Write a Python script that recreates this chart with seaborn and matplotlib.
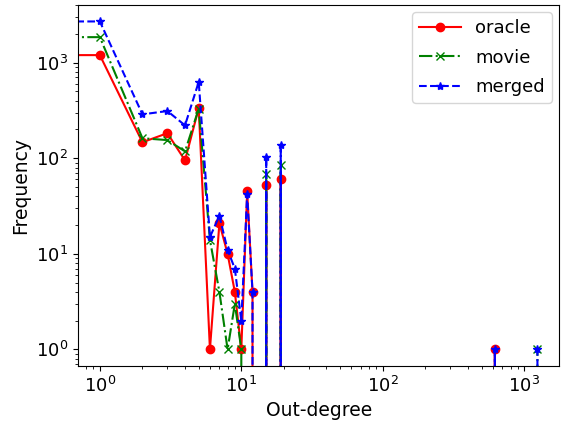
import numpy as np
import pandas as pd
import matplotlib
matplotlib.use("Agg")
import matplotlib.pyplot as plt
import seaborn as sns

# out-degree counts (zero everywhere else)
oracle_degree = [0, 1, 2, 3, 4, 5, 6, 7, 8, 9, 10, 11, 12, 15, 19, 620]
oracle_freq = [1200, 1200, 147, 183, 95, 335, 1, 21, 10, 4, 1, 45, 4, 52, 61, 1]

movie_degree = [0, 1, 2, 3, 4, 5, 6, 7, 8, 9, 10, 15, 19, 1240]
movie_freq = [1850, 1850, 162, 155, 118, 330, 14, 4, 1, 3, 1, 68, 86, 1]

merged_degree = [0, 1, 2, 3, 4, 5, 6, 7, 8, 9, 10, 11, 12, 15, 19, 620, 1240]
merged_freq = [2700, 2700, 288, 312, 221, 630, 15, 25, 11, 7, 2, 42, 4, 102, 137, 1, 1]

max_degree = 1240


def a_histograma(grados, frecuencias):
    """Serie completa 0..max_degree con ceros donde no hay nodos"""
    s = pd.Series(frecuencias, index=grados, dtype=float)
    s = s.reindex(range(max_degree + 1), fill_value=0.0)
    return pd.DataFrame({"degree": s.index, "freq": s.values})


series = [
    ("oracle", oracle_degree, oracle_freq, "red", "-", "o"),
    ("movie", movie_degree, movie_freq, "green", "-.", "x"),
    ("merged", merged_degree, merged_freq, "blue", "--", "*"),
]

fig, ax = plt.subplots(figsize=(5.61, 4.21), dpi=100)
ax.set_xscale("log")
ax.set_yscale("log")

for nombre, grados, frecs, color, estilo, marcador in series:
    df = a_histograma(grados, frecs)
    sns.lineplot(data=df, x="degree", y="freq", ax=ax, label=nombre,
                 color=color, linestyle=estilo, marker=marcador,
                 markeredgecolor=color, markeredgewidth=1.0,
                 markersize=6, linewidth=1.5,
                 estimator=None, errorbar=None, sort=True)

ax.set_xlabel("Out-degree", fontsize=13.5)
ax.set_ylabel("Frequency", fontsize=13.5)
ax.tick_params(axis="both", which="major", labelsize=13)
ax.legend(loc="upper right", fontsize=13, labelspacing=0.62,
          handlelength=2.3, borderaxespad=0.4)

plt.subplots_adjust(left=0.139, right=0.997, top=0.988, bottom=0.131)
plt.savefig("out.png")
plt.close()
